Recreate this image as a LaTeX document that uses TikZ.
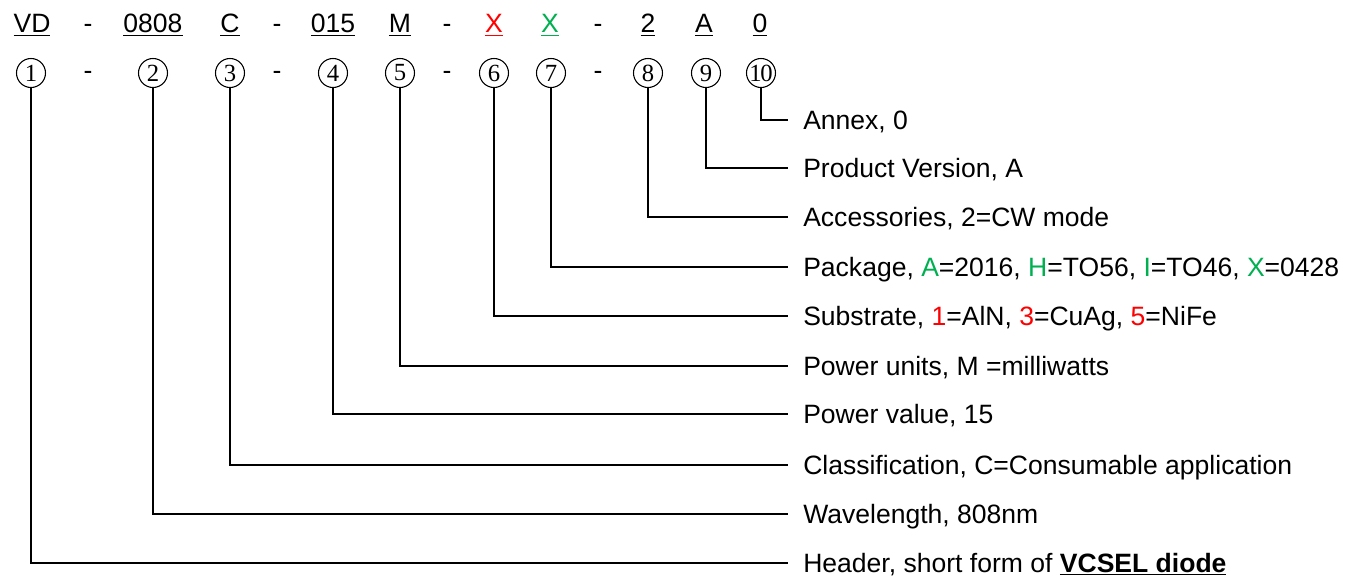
\documentclass[tikz,border=0pt]{standalone}
\usepackage{fontspec}
\setmainfont{Liberation Sans}
\newfontfamily\circfont{Liberation Serif}
\definecolor{codered}{RGB}{255,0,0}
\definecolor{codegreen}{RGB}{0,176,80}
\tikzset{
  code/.style={anchor=base, inner sep=0pt, font=\fontsize{19.9}{24}\selectfont},
  num/.style={draw, circle, line width=0.8pt, minimum size=21.75pt, inner sep=0pt,
    font=\circfont\fontsize{18.5}{18.5}\selectfont},
  desc/.style={anchor=west, inner xsep=11.25pt, inner ysep=0pt, text height=14.2pt,
    text depth=0pt, font=\fontsize{19.9}{24}\selectfont},
  lead/.style={line width=0.8pt}
}
\begin{document}
\begin{tikzpicture}[x=0.75pt,y=-0.75pt]
    \useasboundingbox (0,0) rectangle (1357,577);

    % Part number, top row
    \node[code] (p1) at (32,33) {\underline{VD}};
    \node[code] (p2) at (153,33) {\underline{0808}};
    \node[code] (p3) at (230,33) {\underline{C}};
    \node[code] (p4) at (333,33) {\underline{015}};
    \node[code] (p5) at (400,33) {\underline{M}};
    \node[code] (p6) at (494,33) {\color{codered}\underline{X}};
    \node[code] (p7) at (550,33) {\color{codegreen}\underline{X}};
    \node[code] (p8) at (648,33) {\underline{2}};
    \node[code] (p9) at (704,33) {\underline{A}};
    \node[code] (p10) at (760,33) {\underline{0}};

    % Dashes in both rows
    \foreach \x [count=\k] in {88, 277, 447, 598} {
        \node[code] (dt\k) at (\x,33) {-};
        \node[code] (db\k) at (\x,80) {-};
    }

    % Circled positions
    \foreach \i/\x in {1/31, 2/153, 3/230, 4/333, 5/400, 6/494, 7/551, 8/648, 9/706} {
        \node[num] (c\i) at (\x,73) {\i};
    }
    \node[num] (c10) at (761,73) {1\kern-0.06em0};

    % Descriptions
    \node[desc] (t10) at (788,120) {Annex, 0};
    \node[desc] (t9) at (788,168) {Product Version, A};
    \node[desc] (t8) at (788,217) {Accessories, 2=CW mode};
    \node[desc] (t7) at (788,267) {Package, \textcolor{codegreen}{A}=2016, \textcolor{codegreen}{H}=TO56, \textcolor{codegreen}{I}=TO46, \textcolor{codegreen}{X}=0428};
    \node[desc] (t6) at (788,316) {Substrate, \textcolor{codered}{1}=AlN, \textcolor{codered}{3}=CuAg, \textcolor{codered}{5}=NiFe};
    \node[desc] (t5) at (788,366) {Power units, M =milliwatts};
    \node[desc] (t4) at (788,414) {Power value, 15};
    \node[desc] (t3) at (788,465) {Classification, C=Consumable application};
    \node[desc] (t2) at (788,514) {Wavelength, 808nm};
    \node[desc] (t1) at (788,563) {Header, short form of \textbf{\underline{VCSEL diode}}};

    % Leader lines
    \foreach \i in {1,...,10} {
        \draw[lead] (c\i) |- (t\i);
    }

\end{tikzpicture}
\end{document}
